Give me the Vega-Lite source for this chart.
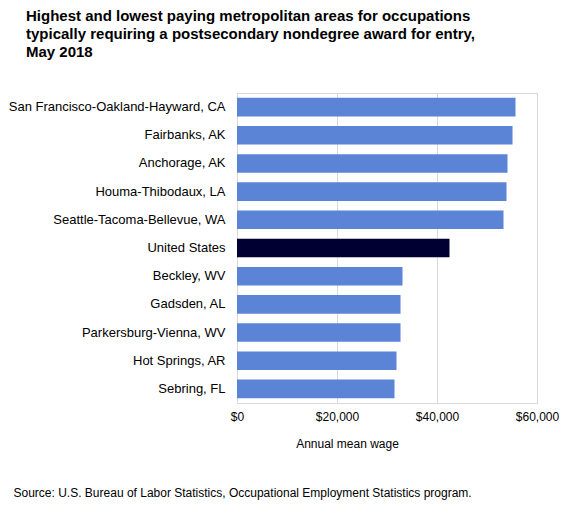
{
  "$schema": "https://vega.github.io/schema/vega-lite/v6.json",
  "width": 300,
  "height": 310,
  "autosize": {"type": "none"},
  "padding": {"left": 237, "top": 93, "right": 30, "bottom": 114},
  "background": "white",
  "title": {
    "text": ["Highest and lowest paying metropolitan areas for occupations", "typically requiring a postsecondary nondegree award for entry,", "May 2018"],
    "anchor": "start",
    "frame": "group",
    "dx": -211,
    "offset": 18,
    "baseline": "bottom",
    "font": "Liberation Sans",
    "fontSize": 15,
    "fontWeight": "bold",
    "lineHeight": 18,
    "color": "black"
  },
  "data": {
    "values": [
      {"area": "San Francisco-Oakland-Hayward, CA", "wage": 55700, "type": "metro"},
      {"area": "Fairbanks, AK", "wage": 55100, "type": "metro"},
      {"area": "Anchorage, AK", "wage": 54100, "type": "metro"},
      {"area": "Houma-Thibodaux, LA", "wage": 53900, "type": "metro"},
      {"area": "Seattle-Tacoma-Bellevue, WA", "wage": 53300, "type": "metro"},
      {"area": "United States", "wage": 42500, "type": "us"},
      {"area": "Beckley, WV", "wage": 33100, "type": "metro"},
      {"area": "Gadsden, AL", "wage": 32700, "type": "metro"},
      {"area": "Parkersburg-Vienna, WV", "wage": 32700, "type": "metro"},
      {"area": "Hot Springs, AR", "wage": 31900, "type": "metro"},
      {"area": "Sebring, FL", "wage": 31500, "type": "metro"}
    ]
  },
  "mark": {"type": "bar"},
  "encoding": {
    "y": {
      "field": "area",
      "type": "nominal",
      "sort": null,
      "scale": {"paddingInner": 0.34, "paddingOuter": 0.17},
      "axis": {
        "title": "Source: U.S. Bureau of Labor Statistics, Occupational Employment Statistics program.",
        "titleAngle": 0,
        "titleAlign": "left",
        "titleBaseline": "alphabetic",
        "titleX": -224,
        "titleY": 403,
        "titleFont": "Liberation Sans",
        "titleFontSize": 12,
        "titleFontWeight": "normal",
        "titleColor": "black",
        "labelFont": "Liberation Sans",
        "labelFontSize": 13,
        "labelColor": "black",
        "labelPadding": 12,
        "labelLimit": 300,
        "ticks": false,
        "domain": true,
        "domainColor": "#d9d9d9",
        "grid": false
      }
    },
    "x": {
      "field": "wage",
      "type": "quantitative",
      "scale": {"domain": [0, 60000], "nice": false},
      "axis": {
        "title": "Annual mean wage",
        "titleX": 110,
        "titleY": 44,
        "titleAlign": "center",
        "titleBaseline": "alphabetic",
        "titleFont": "Liberation Sans",
        "titleFontSize": 12,
        "titleFontWeight": "normal",
        "titleColor": "black",
        "values": [0, 20000, 40000, 60000],
        "format": "$,.0f",
        "labelFont": "Liberation Sans",
        "labelFontSize": 12,
        "labelColor": "black",
        "labelPadding": 8,
        "labelFlush": false,
        "ticks": false,
        "domain": true,
        "domainColor": "#d9d9d9",
        "grid": true,
        "gridColor": "#d9d9d9",
        "gridWidth": 1
      }
    },
    "color": {
      "field": "type",
      "type": "nominal",
      "scale": {"domain": ["metro", "us"], "range": ["#5b84d6", "#000033"]},
      "legend": null
    }
  },
  "config": {
    "view": {"stroke": "#d9d9d9", "strokeWidth": 1}
  }
}
